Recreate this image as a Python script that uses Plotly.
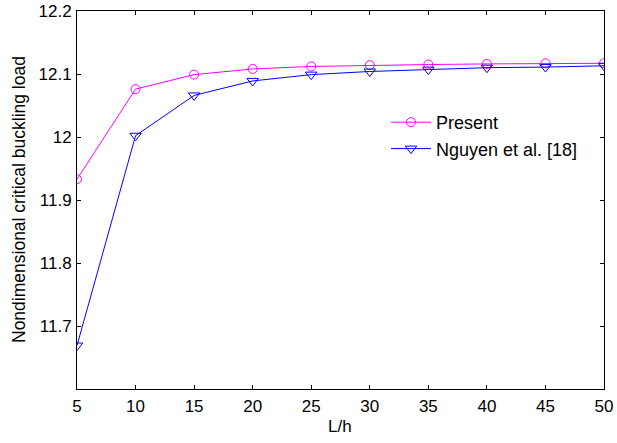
import plotly.graph_objects as go

L_h = [5, 10, 15, 20, 25, 30, 35, 40, 45, 50]
present = [11.933, 12.076, 12.099, 12.108, 12.112, 12.114, 12.115, 12.116, 12.117, 12.117]
nguyen = [11.669, 12.002, 12.066, 12.089, 12.099, 12.104, 12.107, 12.110, 12.111, 12.113]
y_ticks = [11.7, 11.8, 11.9, 12.0, 12.1, 12.2]
y_tick_text = ["11.7", "11.8", "11.9", "12", "12.1", "12.2"]
x_ticks = [5, 10, 15, 20, 25, 30, 35, 40, 45, 50]

W, H = 617, 443
ml, mr, mt, mb = 77, 13, 11, 54
pw, ph = W - ml - mr, H - mt - mb
FONT = "Liberation Sans, Arial, sans-serif"

fig = go.Figure()
fig.add_trace(go.Scatter(
    x=L_h, y=present, name="Present", mode="lines+markers",
    line=dict(color="#FF00FF", width=1),
    marker=dict(symbol="circle-open", size=9, color="#FF00FF", line=dict(width=1)),
))
fig.add_trace(go.Scatter(
    x=L_h, y=nguyen, name="Nguyen et al. [18]", mode="lines+markers",
    line=dict(color="#0000FF", width=1),
    marker=dict(symbol="triangle-down-open", size=10, color="#0000FF", line=dict(width=1)),
))

axis_common = dict(
    showgrid=False, zeroline=False, showline=True, linecolor="black", linewidth=1,
    mirror="allticks", ticks="inside", ticklen=4, tickcolor="black",
    tickfont=dict(family=FONT, size=17, color="black"), automargin=False,
)
fig.update_xaxes(range=[5, 50], tickvals=x_ticks, ticklabelstandoff=2, **axis_common)
fig.update_yaxes(range=[11.6, 12.2], tickvals=y_ticks, ticktext=y_tick_text, ticklabelstandoff=1, **axis_common)

fig.add_annotation(
    text="Nondimensional critical buckling load", textangle=-90,
    xref="paper", yref="paper", x=(19 - ml) / pw, y=0.5,
    xanchor="center", yanchor="middle", showarrow=False,
    font=dict(family=FONT, size=17.5, color="black"),
)
fig.add_annotation(
    text="L/h", xref="paper", yref="paper", x=(340 - ml) / pw, y=-(426 - (H - mb)) / ph,
    xanchor="center", yanchor="middle", showarrow=False,
    font=dict(family=FONT, size=17, color="black"),
)

fig.update_layout(
    width=W, height=H,
    margin=dict(l=ml, r=mr, t=mt, b=mb, autoexpand=False),
    paper_bgcolor="white", plot_bgcolor="white",
    showlegend=True,
    legend=dict(
        x=(386 - ml) / pw, y=1 - (104 - mt) / ph, xanchor="left", yanchor="top",
        bgcolor="rgba(0,0,0,0)", borderwidth=0,
        font=dict(family=FONT, size=18, color="black"),
        itemwidth=40, tracegroupgap=0,
    ),
    font=dict(family=FONT, size=17, color="black"),
)

fig.write_html(
    "out.html",
    config={"displayModeBar": False},
    post_script="document.body.style.margin='0';document.body.style.padding='0';",
)
